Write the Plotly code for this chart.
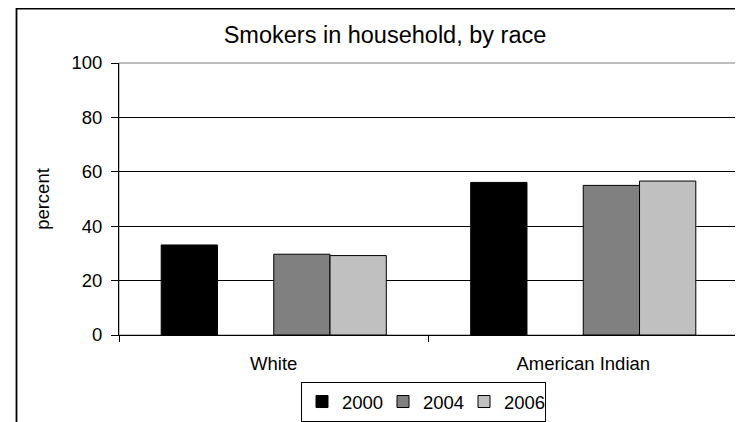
import plotly.graph_objects as go

categories = ["White", "American Indian"]
series_names = ["2000", "2002", "2004", "2006"]
values_2000 = [33.1, 56.1]
values_2002 = [None, None]
values_2004 = [29.7, 55.0]
values_2006 = [29.2, 56.6]
colors = ["#000000", "#FFFFFF", "#808080", "#C0C0C0"]
y_ticks = [0, 20, 40, 60, 80, 100]

FONT = "Liberation Sans, Arial, sans-serif"
FS = 18.5

OFF = 8  # page offset of the figure inside the window
W, H = 743 - OFF, 422 - OFF
# plot area in window pixels: x 119..738, y 63..335
L = 119 - OFF
R = W - (738 - OFF)
T = 63 - OFF
B = H - (335 - OFF)
pw, ph = W - L - R, H - T - B

def px_x(x):
    """window x pixel -> paper fraction"""
    return (x - OFF - L) / pw

def px_y(y):
    """window y pixel -> paper fraction"""
    return (H - B - (y - OFF)) / ph

fig = go.Figure()
all_vals = [values_2000, values_2002, values_2004, values_2006]
for name, vals, col in zip(series_names, all_vals, colors):
    fig.add_trace(go.Bar(
        x=categories, y=vals, name=name,
        marker=dict(color=col, line=dict(color="#000000", width=1)),
        showlegend=(name != "2002"),
    ))

fig.update_layout(
    template="none",
    width=W, height=H,
    margin=dict(l=L, r=R, t=T, b=B, autoexpand=False),
    paper_bgcolor="white", plot_bgcolor="white",
    barmode="group", bargap=1.5 / 5.5, bargroupgap=0,
    font=dict(family=FONT, size=FS, color="#000000"),
    title=dict(text="Smokers in household, by race",
               font=dict(family=FONT, size=23.5, color="#000000"),
               x=px_x(385), xref="paper", xanchor="center",
               y=1 - (35 - OFF) / H, yref="container", yanchor="middle"),
    legend=dict(orientation="h", x=px_x(301), y=px_y(382),
                xanchor="left", yanchor="top",
                bgcolor="white", bordercolor="#000000", borderwidth=1,
                entrywidth=36, entrywidthmode="pixels",
                font=dict(family=FONT, size=FS, color="#000000"),
                itemclick=False),
    showlegend=True,
)

fig.update_xaxes(
    automargin=False,
    showline=True, linecolor="#000000", linewidth=1,
    ticks="outside", tickson="boundaries", ticklen=6, tickcolor="#000000",
    showgrid=False, tickfont=dict(family=FONT, size=FS, color="#000000"),
    ticklabelstandoff=12,
)
fig.update_yaxes(
    automargin=False,
    range=[0, 100], tickvals=y_ticks,
    showline=True, linecolor="#000000", linewidth=1,
    ticks="outside", ticklen=7, tickcolor="#000000",
    showgrid=True, gridcolor="#000000", gridwidth=1,
    zeroline=False,
    tickfont=dict(family=FONT, size=FS, color="#000000"),
    ticklabelstandoff=5,
    title=dict(text="percent", font=dict(family=FONT, size=FS, color="#000000"),
               standoff=16),
)

# plot area border (gray) and outer chart border
fig.add_shape(type="rect", xref="paper", yref="paper", x0=0, x1=1, y0=0, y1=1,
              line=dict(color="#808080", width=1), layer="below")
fig.add_shape(type="rect", xref="paper", yref="paper",
              x0=px_x(16.5), x1=px_x(780), y0=px_y(460), y1=px_y(8.7),
              line=dict(color="#000000", width=1.8), layer="above")

fig.write_html("out.html")
